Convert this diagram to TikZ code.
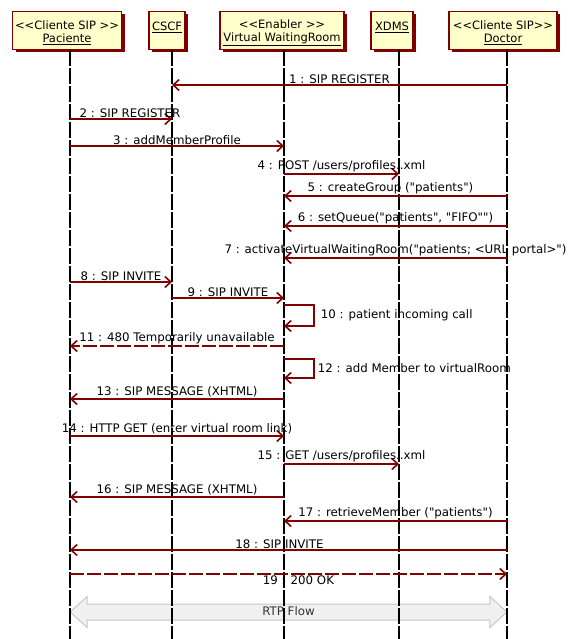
\documentclass[tikz,border=0pt]{standalone}
\usepackage{fontspec}
\setmainfont{DejaVu Sans}[Ligatures=TeXOff]
\definecolor{mred}{RGB}{128,0,0}
\definecolor{hdrfill}{RGB}{255,255,204}
\usetikzlibrary{arrows.meta, shapes.arrows, shadows, positioning}
\newcommand{\htop}{\rule{0pt}{14pt}}

\begin{document}
\begin{tikzpicture}[x=1pt, y=-1pt,
  font=\fontsize{11.8}{16}\selectfont,
  hdr/.style={draw=mred, fill=hdrfill, line width=1.2pt, align=center, minimum height=38pt,
    inner xsep=2pt, inner ysep=1pt, font=\fontsize{11.5}{16}\selectfont,
    drop shadow={shadow xshift=3pt, shadow yshift=-3pt, fill=mred, opacity=1}},
  life/.style={line width=1.6pt, dash pattern=on 16pt off 2pt},
  msg/.style={draw=mred, line width=1.6pt, -{Straight Barb[length=6pt,width=11pt]}},
  reply/.style={msg, dash pattern=on 14pt off 3pt},
  lbl/.style={above, inner sep=1pt}
]
  \useasboundingbox (0,0) rectangle (568,639);

  \node[hdr, minimum width=109pt] (pac) at (67,30.5) {\htop<<Cliente SIP >>\\[-3pt]\underline{Paciente}};
  \node[hdr, minimum width=36pt] (cscf) at (167,30.5) {\htop\underline{CSCF}\\[-3pt]\mbox{}};
  \node[hdr, minimum width=124pt] (vwr) at (282,30.5) {\htop<<Enabler >>\\[-3pt]\underline{Virtual WaitingRoom}};
  \node[hdr, minimum width=42pt] (xdms) at (392,30.5) {\htop\underline{XDMS}\\[-3pt]\mbox{}};
  \node[hdr, minimum width=108pt] (doc) at (503,30.5) {\htop<<Cliente SIP>>\\[-3pt]\underline{Doctor}};

  \coordinate (P) at (70,639);
  \coordinate (C) at (172,639);
  \coordinate (V) at (284,639);
  \coordinate (X) at (399,639);
  \coordinate (D) at (507,639);

  \node[double arrow, draw=gray!45, fill=gray!12, line width=1pt, double arrow head extend=7.5pt,
    double arrow tip angle=84, minimum height=437pt, text height=9pt, text depth=2.5pt,
    inner sep=1.75pt, text=black!80] (rtp) at (288.5,612) {RTP Flow};

  \draw[life] (pac.south -| P) -- (P);
  \draw[life] (cscf.south -| C) -- (C);
  \draw[life] (vwr.south -| V) -- (V);
  \draw[life] (xdms.south -| X) -- (X);
  \draw[life] (doc.south -| D) -- (D);

  \draw[msg] (D |- 0,85) -- node[lbl] {1 : SIP REGISTER} (C |- 0,85);
  \draw[msg] (P |- 0,119) -- node[lbl, xshift=9pt] {2 : SIP REGISTER} (C |- 0,119);
  \draw[msg] (P |- 0,146) -- node[lbl] {3 : addMemberProfile} (V |- 0,146);
  \draw[msg] (V |- 0,174) -- node[lbl] {4 : POST /users/profiles..xml} (X |- 0,174);
  \draw[msg] (D |- 0,196) -- node[lbl, xshift=-5pt] {5 : createGroup ("patients")} (V |- 0,196);
  \draw[msg] (D |- 0,226) -- node[lbl] {6 : setQueue("patients", "FIFO"")} (V |- 0,226);
  \draw[msg] (D |- 0,258) -- node[lbl] {7 : activateVirtualWaitingRoom("patients; <URL portal>")} (V |- 0,258);
  \draw[msg] (P |- 0,282) -- node[lbl] {8 : SIP INVITE} (C |- 0,282);
  \draw[msg] (C |- 0,298) -- node[lbl] {9 : SIP INVITE} (V |- 0,298);
  \draw[msg] (V |- 0,305) -- ++(30,0) |- node[pos=0.25, right, inner sep=6pt] {10 : patient incoming call} (V |- 0,326);
  \draw[reply] (V |- 0,346) -- node[lbl] {11 : 480 Temporarily unavailable} (P |- 0,346);
  \draw[msg] (V |- 0,359) -- ++(30,0) |- node[pos=0.25, right, inner sep=3pt] {12 : add Member to virtualRoom} (V |- 0,378);
  \draw[msg] (V |- 0,399) -- node[lbl] {13 : SIP MESSAGE (XHTML)} (P |- 0,399);
  \draw[msg] (P |- 0,436) -- node[lbl] {14 : HTTP GET (enter virtual room link)} (V |- 0,436);
  \draw[msg] (V |- 0,464) -- node[lbl] {15 : GET /users/profiles..xml} (X |- 0,464);
  \draw[msg] (V |- 0,497) -- node[lbl] {16 : SIP MESSAGE (XHTML)} (P |- 0,497);
  \draw[msg] (D |- 0,521) -- node[lbl] {17 : retrieveMember ("patients")} (V |- 0,521);
  \draw[msg] (D |- 0,550) -- node[lbl, xshift=-9pt] {18 : SIP INVITE} (P |- 0,550);
  \draw[reply] (P |- 0,574) -- node[lbl, below, xshift=10pt] {19 : 200 OK} (D |- 0,574);
\end{tikzpicture}
\end{document}
